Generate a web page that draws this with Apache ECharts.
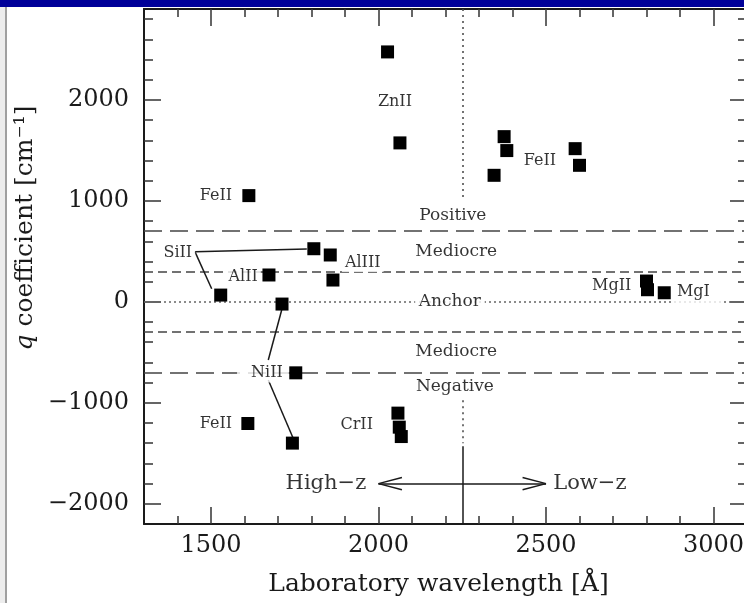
<!DOCTYPE html>
<html>
<head>
<meta charset="utf-8">
<title>q coefficients</title>
<script src="https://cdn.jsdelivr.net/npm/echarts@6/dist/echarts.min.js"></script>
<style>
  html, body { margin: 0; padding: 0; background: #fff; }
  #grafico { width: 744px; height: 603px; }
</style>
</head>
<body>
<div id="grafico"></div>
<script>
// transiciones: longitud de onda (Å) y coeficiente q (cm^-1)
const wavelengths = [2027, 2064, 1613, 1610, 2375, 2383, 2345, 2587, 2600, 2800, 2803, 2853,
  1529, 1807, 1673, 1856, 1864, 1712, 1753, 1743, 2058, 2062, 2068];
const qValues = [2475, 1574, 1052, -1205, 1636, 1498, 1253, 1517, 1352, 206, 120, 90,
  67, 526, 266, 464, 216, -22, -703, -1399, -1102, -1241, -1334];

// etiquetas de iones
const ionNames = ["ZnII", "FeII", "FeII", "FeII", "SiII", "AlII", "AlIII", "NiII", "CrII", "MgII", "MgI"];
const ionLabelX = [2049, 2482, 1515, 1515, 1401, 1596, 1953, 1655, 1935, 2696, 2955];
const ionLabelY = [1976, 1392, 1052, -1208, 487, 252, 385, -700, -1218, 160, 100];

// zonas
const zoneNames = ["Positive", "Mediocre", "Anchor", "Mediocre", "Negative"];
const zoneLabelX = [2222, 2232, 2213, 2232, 2228];
const zoneLabelY = [850, 494, 0, -497, -843];
const zoneLimits = [700, 300, 0, -300, -700];

// lineas que unen etiquetas con puntos
const connectors = [
  [[1452, 497], [1786, 523]],
  [[1452, 497], [1502, 130]],
  [[1671, -576], [1711, -81]],
  [[1671, -774], [1744, -1341]]
];

// flecha high-z / low-z
const arrowY = -1800;
const arrowFrom = 2000;
const arrowTo = 2500;
const arrowTexts = ["High−z", "Low−z"];
const arrowTextX = [1843, 2631];
const dividerX = 2250;

// ticks
const xMajorTicks = [1500, 2000, 2500, 3000];
const yMajorTicks = [-2000, -1000, 0, 1000, 2000];
const xMinorTicks = [];
for (let v = 1400; v <= 3000; v += 100) xMinorTicks.push(v);
const yMinorTicks = [];
for (let v = -2000; v <= 2800; v += 200) yMinorTicks.push(v);

const serif = "DejaVu Serif";
const axisColor = "#1a1a1a";
const fmt = (v) => (v < 0 ? "\u2212" + Math.abs(v) : String(v));

function ejeX(position, ticks, len, conEtiquetas) {
  return {
    type: "value", position: position, min: 1300, max: 3100,
    axisLine: { show: conEtiquetas || position === "top", onZero: false, lineStyle: { color: axisColor, width: 2 } },
    axisTick: { inside: true, length: len, customValues: ticks, lineStyle: { color: "#333", width: 1.5 } },
    axisLabel: conEtiquetas
      ? { customValues: ticks, formatter: fmt, margin: 10, fontFamily: serif, fontSize: 24, color: "#1a1a1a" }
      : { show: false },
    splitLine: { show: false }
  };
}

function ejeY(position, ticks, len, conEtiquetas) {
  return {
    type: "value", position: position, min: -2200, max: 2900,
    axisLine: { show: conEtiquetas || position === "right", onZero: false, lineStyle: { color: axisColor, width: 2 } },
    axisTick: { inside: true, length: len, customValues: ticks, lineStyle: { color: "#333", width: 1.5 } },
    axisLabel: conEtiquetas
      ? { customValues: ticks, formatter: fmt, margin: 15, fontFamily: serif, fontSize: 24, color: "#1a1a1a" }
      : { show: false },
    splitLine: { show: false }
  };
}

const xAxes = [
  ejeX("bottom", xMajorTicks, 17, true),
  ejeX("bottom", xMinorTicks, 8, false),
  ejeX("top", xMajorTicks, 17, false),
  ejeX("top", xMinorTicks, 8, false)
];
xAxes[0].name = "Laboratory wavelength [Å]";
xAxes[0].nameLocation = "middle";
xAxes[0].nameGap = 48;
xAxes[0].nameTextStyle = { fontFamily: serif, fontSize: 25, color: "#1a1a1a", padding: [0, 14, 0, 0] };

const yAxes = [
  ejeY("left", yMajorTicks, 17, true),
  ejeY("left", yMinorTicks, 9, false),
  ejeY("right", yMajorTicks, 17, false),
  ejeY("right", yMinorTicks, 9, false)
];

const dashStyles = {
  "700": { color: "#444", width: 1.5, type: [18, 8] },
  "300": { color: "#444", width: 1.5, type: [9, 5] },
  "0": { color: "#666", width: 1.5, type: [2, 3] }
};

const markLines = zoneLimits.map((v) => ({
  yAxis: v,
  lineStyle: dashStyles[String(Math.abs(v))]
}));
connectors.forEach((c) => {
  markLines.push([{ coord: c[0] }, { coord: c[1] }]);
});
// flecha
markLines.push([{ coord: [arrowFrom, arrowY] }, { coord: [arrowTo, arrowY] }]);
[[arrowFrom, 70], [arrowTo, -70]].forEach(([x0, dx]) => {
  markLines.push([{ coord: [x0, arrowY] }, { coord: [x0 + dx, arrowY + 60] }]);
  markLines.push([{ coord: [x0, arrowY] }, { coord: [x0 + dx, arrowY - 60] }]);
});
// divisor vertical
markLines.push([{ coord: [dividerX, 2900], lineStyle: { type: [2, 4], color: "#444" } }, { coord: [dividerX, 1000] }]);
markLines.push([{ coord: [dividerX, -975], lineStyle: { type: [2, 4], color: "#444" } }, { coord: [dividerX, -1400] }]);
markLines.push([{ coord: [dividerX, -1430] }, { coord: [dividerX, -2200] }]);

const labelOverrides = {
  7: { padding: [2, 6, 2, 14] },
  10: { padding: [3, 14, 5, 4] }
};

const option = {
  animation: false,
  backgroundColor: "#fff",
  grid: { left: 144, top: 9, width: 603, height: 515, outerBoundsMode: "none" },
  xAxis: xAxes,
  yAxis: yAxes,
  graphic: [
    { type: "rect", z: 100, shape: { x: 0, y: 0, width: 744, height: 7 }, style: { fill: "#000099" } },
    { type: "rect", z: 100, shape: { x: 0, y: 7, width: 5, height: 596 }, style: { fill: "#ededed" } },
    { type: "line", z: 100, shape: { x1: 6, y1: 7, x2: 6, y2: 603 }, style: { stroke: "#a0a0a0", lineWidth: 2 } },
    {
      type: "text", z: 100, x: 25, y: 228, rotation: Math.PI / 2,
      style: {
        text: "{i|q} coefficient [cm⁻¹]",
        fontFamily: serif, fontSize: 25, fill: "#1a1a1a",
        align: "center", verticalAlign: "middle",
        rich: { i: { fontStyle: "italic", fontFamily: serif, fontSize: 25, fill: "#1a1a1a" } }
      }
    }
  ],
  series: [
    {
      type: "line", data: [], silent: true,
      markLine: {
        z: 1, silent: true, symbol: ["none", "none"], animation: false,
        label: { show: false },
        lineStyle: { color: "#1a1a1a", width: 1.5, type: "solid" },
        emphasis: { disabled: true },
        data: markLines
      }
    },
    {
      type: "scatter", z: 3, silent: true,
      symbol: "rect", symbolSize: 13,
      itemStyle: { color: "#000", opacity: 1 },
      data: wavelengths.map((w, i) => [w, qValues[i]])
    },
    {
      type: "scatter", z: 10, silent: true, symbolSize: 0,
      label: {
        show: true, position: "inside", formatter: "{b}",
        fontFamily: serif, fontSize: 16, color: "#000",
        backgroundColor: "#fff", padding: [1, 3]
      },
      data: ionNames.map((n, i) => ({ name: n, value: [ionLabelX[i], ionLabelY[i]], label: labelOverrides[i] }))
    },
    {
      type: "scatter", z: 10, silent: true, symbolSize: 0,
      label: {
        show: true, position: "inside", formatter: "{b}",
        fontFamily: serif, fontSize: 17, color: "#000",
        backgroundColor: "#fff", padding: [1, 4]
      },
      data: zoneNames.map((n, i) => ({ name: n, value: [zoneLabelX[i], zoneLabelY[i]] }))
    },
    {
      type: "scatter", z: 10, silent: true, symbolSize: 0,
      label: {
        show: true, position: "inside", formatter: "{b}",
        fontFamily: serif, fontSize: 21, color: "#000"
      },
      data: arrowTexts.map((n, i) => ({ name: n, value: [arrowTextX[i], arrowY] }))
    }
  ]
};

const miGrafico = echarts.init(document.getElementById("grafico"));
miGrafico.setOption(option);
</script>
</body>
</html>
